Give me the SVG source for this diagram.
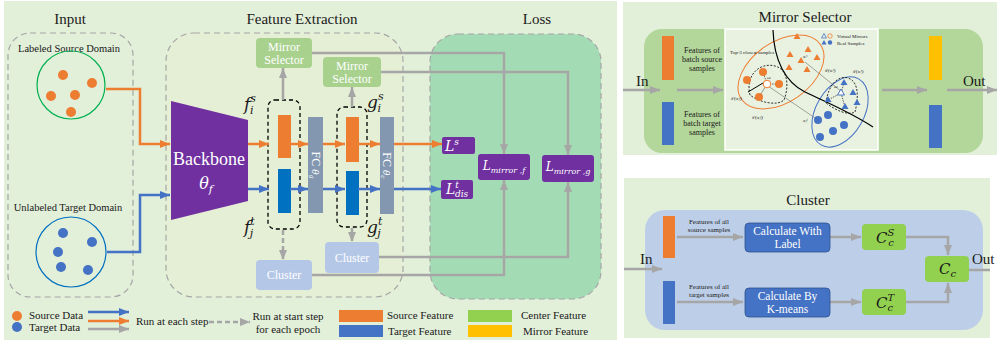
<svg xmlns="http://www.w3.org/2000/svg" width="997" height="346" viewBox="0 0 997 346">
<defs>
<style>
.t{font-family:"Liberation Serif","DejaVu Serif",serif;fill:#1a1a1a}
.w{font-family:"Liberation Serif","DejaVu Serif",serif;fill:#fff}
.m{font-family:"DejaVu Serif","Liberation Serif",serif;font-style:italic}
.dash{fill:none;stroke:#a6a6a6;stroke-width:1.2;stroke-dasharray:6 4}
.ln{fill:none;stroke-width:2.5}
.or{stroke:#ed7d31}
.bl{stroke:#4472c4}
.gr{stroke:#a6a6a6}
.ms{fill:#a9d18e}
.cl{fill:#b4c7e7}
.pu{fill:#7030a0}
.fc{fill:#8497b0}
.bd{fill:none;stroke:#000;stroke-width:1.3;stroke-dasharray:4 3}
</style>
<marker id="ao" viewBox="0 0 10 8" refX="10" refY="4" markerWidth="10" markerHeight="8" markerUnits="userSpaceOnUse" orient="auto"><path d="M0,0L10,4L0,8z" fill="#ed7d31"/></marker>
<marker id="ab" viewBox="0 0 10 8" refX="10" refY="4" markerWidth="10" markerHeight="8" markerUnits="userSpaceOnUse" orient="auto"><path d="M0,0L10,4L0,8z" fill="#4472c4"/></marker>
<marker id="ag" viewBox="0 0 10 8" refX="10" refY="4" markerWidth="10" markerHeight="8" markerUnits="userSpaceOnUse" orient="auto"><path d="M0,0L10,4L0,8z" fill="#a6a6a6"/></marker>
</defs>

<!-- backgrounds -->
<rect x="4" y="1" width="613" height="339" fill="#e2efd9"/>
<rect x="623" y="2" width="374" height="153" fill="#e2efd9"/>
<rect x="624" y="178" width="366" height="160" fill="#e2efd9"/>

<!-- main panel containers -->
<g id="input-box">
<rect x="8" y="33" width="125" height="264" rx="22" fill="#e1edd8" class="dash"/>
<text class="t" x="70" y="24" font-size="15" text-anchor="middle">Input</text>
</g>
<g id="feature-box">
<rect x="166" y="33" width="237" height="264" rx="28" fill="#e5efd5" stroke="#a6a6a6" stroke-width="1.2" stroke-dasharray="6 4"/>
<text class="t" x="302" y="24" font-size="15" text-anchor="middle">Feature Extraction</text>
</g>
<g id="loss-box">
<rect x="430" y="34" width="171" height="265" rx="28" fill="#a3dcb4" stroke="#a6a6a6" stroke-width="1.2" stroke-dasharray="6 4"/>
<text class="t" x="537" y="24" font-size="15" text-anchor="middle">Loss</text>
</g>

<!-- source / target domains -->
<g id="source-domain">
<text class="t" x="69" y="52" font-size="10.5" text-anchor="middle">Labeled  Source Domain</text>
<circle cx="71" cy="85" r="34" fill="none" stroke="#00b050" stroke-width="1.2"/>
<g fill="#ed7d31"><circle cx="63" cy="75" r="5"/><circle cx="92" cy="83" r="5"/><circle cx="51" cy="96" r="5"/><circle cx="75" cy="95" r="5"/><circle cx="71" cy="112" r="5"/></g>
</g>
<g id="target-domain">
<text class="t" x="68" y="211" font-size="10.5" text-anchor="middle">Unlabeled  Target Domain</text>
<circle cx="71" cy="252" r="35" fill="none" stroke="#0070c0" stroke-width="1.2"/>
<g fill="#4472c4"><circle cx="63" cy="233" r="5"/><circle cx="92" cy="242" r="5"/><circle cx="58" cy="252" r="5"/><circle cx="61" cy="267" r="5"/><circle cx="88" cy="270" r="5"/></g>
</g>

<g id="backbone">
<polygon points="171,101 248,120 248,201 171,220" fill="#7030a0"/>
<text class="w" x="209" y="165" font-size="18" text-anchor="middle">Backbone</text>
<text class="w m" x="206" y="189" font-size="16" text-anchor="middle">θ<tspan font-size="11" dy="4">f</tspan></text>
</g>

<g id="feature-f">
<rect x="268" y="100" width="32" height="129" rx="7" class="bd"/>
<rect x="278" y="115" width="13" height="43" fill="#ed7d31"/>
<rect x="278" y="169" width="13" height="44" fill="#0070c0"/>
<text class="t m" x="244" y="110" font-size="17">f<tspan font-size="11" dy="-8">s</tspan><tspan font-size="11" dx="-6" dy="12">i</tspan></text>
<text class="t m" x="244" y="233" font-size="17">f<tspan font-size="11" dy="-8">t</tspan><tspan font-size="11" dx="-5" dy="12">j</tspan></text>
</g>
<g id="fc-g">
<rect x="308" y="117" width="15" height="96" class="fc"/>
<text class="w" transform="translate(315.5,165) rotate(90)" font-size="12" text-anchor="middle" dy="4">FC <tspan class="m" font-size="9">θ</tspan><tspan class="m" font-size="6" dy="2">g</tspan></text>
</g>
<g id="feature-g">
<rect x="337" y="107" width="30" height="120" rx="7" class="bd"/>
<rect x="346" y="117" width="13" height="45" fill="#ed7d31"/>
<rect x="346" y="171" width="13" height="44" fill="#0070c0"/>
<text class="t m" x="367" y="108" font-size="17">g<tspan font-size="11" dy="-8">s</tspan><tspan font-size="11" dx="-6" dy="12">i</tspan></text>
<text class="t m" x="367" y="233" font-size="17">g<tspan font-size="11" dy="-8">t</tspan><tspan font-size="11" dx="-5" dy="12">j</tspan></text>
</g>
<g id="fc-c">
<rect x="380" y="117" width="14" height="97" class="fc"/>
<text class="w" transform="translate(387,165.5) rotate(90)" font-size="12" text-anchor="middle" dy="4">FC <tspan class="m" font-size="9">θ</tspan><tspan class="m" font-size="6" dy="2">c</tspan></text>
</g>

<g id="mirror-selector-1">
<rect x="256" y="38" width="56" height="30" rx="4" class="ms"/>
<text class="w" x="284" y="51" font-size="12" text-anchor="middle">Mirror</text>
<text class="w" x="284" y="64" font-size="12" text-anchor="middle">Selector</text>
</g>
<g id="mirror-selector-2">
<rect x="323" y="57" width="58" height="30" rx="4" class="ms"/>
<text class="w" x="352" y="70" font-size="12" text-anchor="middle">Mirror</text>
<text class="w" x="352" y="83" font-size="12" text-anchor="middle">Selector</text>
</g>
<g id="cluster-1">
<rect x="256" y="260" width="56" height="30" rx="4" class="cl"/>
<text class="w" x="284" y="279" font-size="12" text-anchor="middle">Cluster</text>
</g>
<g id="cluster-2">
<rect x="325" y="242" width="54" height="31" rx="4" class="cl"/>
<text class="w" x="352" y="262" font-size="12" text-anchor="middle">Cluster</text>
</g>

<g id="loss-s">
<rect x="442" y="137" width="33" height="17" rx="2" class="pu"/>
<text class="w m" x="452" y="151" font-size="14" text-anchor="middle">L<tspan font-size="9" dy="-6">s</tspan></text>
</g>
<g id="loss-dis">
<rect x="441" y="180" width="32" height="19" rx="2" class="pu"/>
<text class="w m" x="446" y="194" font-size="14">L<tspan font-size="9" dy="-6">t</tspan><tspan font-size="9" dx="-4" dy="9">dis</tspan></text>
</g>
<g id="loss-mirror-f">
<rect x="478" y="154" width="52" height="26" rx="3" class="pu"/>
<text class="w m" x="504" y="170" font-size="12" text-anchor="middle">L<tspan font-size="8" dy="3">mirror ,f</tspan></text>
</g>
<g id="loss-mirror-g">
<rect x="542" y="155" width="52" height="27" rx="3" class="pu"/>
<text class="w m" x="568" y="171" font-size="12" text-anchor="middle">L<tspan font-size="8" dy="3">mirror ,g</tspan></text>
</g>

<g id="connectors">
<path class="ln or" d="M106,89H140V144H170" marker-end="url(#ao)"/>
<path class="ln bl" d="M107,252H140V195H170" marker-end="url(#ab)"/>
<path class="ln or" d="M248,144H269" marker-end="url(#ao)"/>
<path class="ln or" d="M291,144H308" marker-end="url(#ao)"/>
<path class="ln or" d="M323,144H345" marker-end="url(#ao)"/>
<path class="ln or" d="M359,144H380" marker-end="url(#ao)"/>
<path class="ln or" d="M394,144H442" marker-end="url(#ao)"/>
<path class="ln bl" d="M248,189H269" marker-end="url(#ab)"/>
<path class="ln bl" d="M290,189H308" marker-end="url(#ab)"/>
<path class="ln bl" d="M323,189H345" marker-end="url(#ab)"/>
<path class="ln bl" d="M358,189H380" marker-end="url(#ab)"/>
<path class="ln bl" d="M394,189H441" marker-end="url(#ab)"/>
<path class="ln gr" d="M283,100V68" marker-end="url(#ag)"/>
<path class="ln gr" d="M352,107V87" marker-end="url(#ag)"/>
<path class="ln gr" d="M283,230V260" stroke-dasharray="5 3" marker-end="url(#ag)"/>
<path class="ln gr" d="M352,228V242" stroke-dasharray="5 3" marker-end="url(#ag)"/>
<path class="ln gr" d="M312,53H504V154" marker-end="url(#ag)"/>
<path class="ln gr" d="M381,72H568V155" marker-end="url(#ag)"/>
<path class="ln gr" d="M379,257H568V182" marker-end="url(#ag)"/>
<path class="ln gr" d="M312,275H504V180" marker-end="url(#ag)"/>
</g>

<!-- legend -->
<g id="legend">
<circle cx="17" cy="316" r="5" fill="#ed7d31"/>
<circle cx="17" cy="327" r="5" fill="#4472c4"/>
<text class="t" x="29" y="319" font-size="11">Source Data</text>
<text class="t" x="29" y="331" font-size="11">Target  Data</text>
<path class="ln bl" d="M88,312H129" marker-end="url(#ab)"/>
<path class="ln or" d="M88,321H129" marker-end="url(#ao)"/>
<path class="ln gr" d="M88,329H129" marker-end="url(#ag)"/>
<text class="t" x="136" y="325" font-size="11">Run at each step</text>
<path class="ln gr" d="M209,322H250" stroke-dasharray="5 3" marker-end="url(#ag)"/>
<text class="t" x="288" y="320" font-size="11" text-anchor="middle">Run at start step</text>
<text class="t" x="288" y="333" font-size="11" text-anchor="middle">for each epoch</text>
<rect x="339" y="310" width="44" height="12" fill="#ed7d31"/>
<rect x="339" y="325" width="44" height="12" fill="#4472c4"/>
<text class="t" x="387" y="319" font-size="11">Source Feature</text>
<text class="t" x="388" y="335" font-size="11">Target  Feature</text>
<rect x="468" y="310" width="44" height="12" fill="#92d050"/>
<rect x="468" y="325" width="44" height="12" fill="#ffc000"/>
<text class="t" x="521" y="319" font-size="11">Center Feature</text>
<text class="t" x="523" y="335" font-size="11">Mirror Feature</text>
</g>

<!-- Mirror Selector detail panel -->
<g id="mirror-panel">
<text class="t" x="805" y="22" font-size="15" text-anchor="middle">Mirror Selector</text>
<rect x="644" y="29" width="339" height="124" rx="18" fill="#b3d69b"/>
<rect x="662" y="36" width="12" height="44" fill="#ed7d31"/>
<rect x="662" y="102" width="12" height="43" fill="#4472c4"/>
<text class="t" x="702" y="53" font-size="8" text-anchor="middle">Features of</text>
<text class="t" x="702" y="62" font-size="8" text-anchor="middle">batch source</text>
<text class="t" x="702" y="71" font-size="8" text-anchor="middle">samples</text>
<text class="t" x="702" y="117" font-size="8" text-anchor="middle">Features of</text>
<text class="t" x="702" y="126" font-size="8" text-anchor="middle">batch target</text>
<text class="t" x="702" y="135" font-size="8" text-anchor="middle">samples</text>
<text class="t" x="636" y="86" font-size="15">In</text>
<text class="t" x="963" y="86" font-size="15">Out</text>
<rect x="929" y="36" width="13" height="44" fill="#ffc000"/>
<rect x="929" y="105" width="13" height="43" fill="#4472c4"/>
<path class="ln gr" d="M623,90H660" marker-end="url(#ag)"/>
<path class="ln gr" d="M677,90H723" marker-end="url(#ag)"/>
<path class="ln gr" d="M882,90H927" marker-end="url(#ag)"/>
<path class="ln gr" d="M947,90H997" marker-end="url(#ag)"/>
<!-- scatter illustration -->
<rect x="725" y="29" width="153" height="121" fill="#e9f1e1" stroke="#fff" stroke-width="1.5"/>
<ellipse cx="781" cy="72" rx="48" ry="30" transform="rotate(-35 781 72)" fill="none" stroke="#ed7d31" stroke-width="1"/>
<ellipse cx="840" cy="112" rx="38" ry="24" transform="rotate(-60 840 112)" fill="none" stroke="#4472c4" stroke-width="1"/>
<path d="M773,30C774,60 785,82 805,92C830,104 850,112 873,127" fill="none" stroke="#000" stroke-width="1.2"/>
<path d="M748,92L763,83" stroke="#000" stroke-width="1"/>
<path d="M805,62L842,92M768,86L815,118" stroke="#555" stroke-width="0.5"/>
<path d="M750,95C745,75 760,62 775,66C790,70 788,90 784,100C778,106 760,103 750,95Z" fill="none" stroke="#000" stroke-width="0.8" stroke-dasharray="2 1.5"/>
<path d="M826,103C828,85 838,75 848,78C860,82 858,100 855,112C848,116 835,110 826,103Z" fill="none" stroke="#000" stroke-width="0.8" stroke-dasharray="2 1.5"/>
<path d="M767,84L759,97M767,84L779,84M767,84L763,72M841,93L828,100M841,93L845,107M841,93L844,83" stroke="#000" stroke-width="0.6" stroke-dasharray="1.5 1"/>
<g fill="#ed7d31">
<path d="M797,33l3.5,6h-7z"/><path d="M790,51l3.5,6h-7z"/><path d="M808,46l3.5,6h-7z"/><path d="M801,57l3.5,6h-7z"/><path d="M817,54l3.5,6h-7z"/><path d="M789,64l3.5,6h-7z"/><path d="M807,66l3.5,6h-7z"/>
<circle cx="763" cy="72" r="4"/><circle cx="747" cy="80" r="4"/><circle cx="779" cy="84" r="4"/><circle cx="759" cy="97" r="4"/>
</g>
<circle cx="767" cy="84" r="3.8" fill="#fff" stroke="#ed7d31" stroke-width="1"/>
<g fill="#4472c4">
<path d="M844,79l3.5,6h-7z"/><path d="M853,89l3.5,6h-7z"/><path d="M828,96l3.5,6h-7z"/><path d="M845,103l3.5,6h-7z"/><path d="M857,99l3.5,6h-7z"/>
<circle cx="818" cy="120" r="4"/><circle cx="828" cy="115" r="4"/><circle cx="844" cy="125" r="4"/><circle cx="820" cy="137" r="4"/><circle cx="833" cy="131" r="4"/>
</g>
<path d="M841,89l3.5,6h-7z" fill="#fff" stroke="#4472c4" stroke-width="1"/>
<path d="M824,33.5l2.5,4.5h-5z" fill="none" stroke="#4472c4" stroke-width="0.8"/>
<circle cx="830" cy="36" r="2.2" fill="none" stroke="#ed7d31" stroke-width="0.8"/>
<path d="M824,40l2.5,4.5h-5z" fill="#4472c4"/>
<circle cx="830" cy="42.5" r="2.2" fill="#4472c4"/>
<g class="t" font-size="5">
<text x="837" y="38">Virtual Mirrors</text>
<text x="837" y="44.5">Real Samples</text>
<text x="730" y="54">Top-3 closest samples</text>
<text x="803" y="58" font-style="italic">xᵢˢ</text>
<text x="825" y="72" font-style="italic">x̂ᵗ(xᵢˢ)</text>
<text x="853" y="73" font-style="italic">x̂ᵗ(xᵢˢ)</text>
<text x="731" y="100" font-style="italic">x̂ˢ(xⱼᵗ)</text>
<text x="752" y="119" font-style="italic">x̂ˢ(xⱼᵗ)</text>
<text x="803" y="122" font-style="italic">xⱼᵗ</text>
<text x="767" y="79" font-style="italic">ω</text>
<text x="834" y="88" font-style="italic">ω</text>
</g>
</g>

<!-- Cluster detail panel -->
<g id="cluster-panel">
<text class="t" x="808" y="205" font-size="15" text-anchor="middle">Cluster</text>
<rect x="645" y="210" width="338" height="120" rx="20" fill="#bdcfe8"/>
<rect x="663" y="216" width="12" height="42" fill="#ed7d31"/>
<rect x="663" y="281" width="12" height="43" fill="#4472c4"/>
<text class="t" x="709" y="224" font-size="7" text-anchor="middle">Features of all</text>
<text class="t" x="709" y="232" font-size="7" text-anchor="middle">source samples</text>
<text class="t" x="709" y="289" font-size="7" text-anchor="middle">Features of all</text>
<text class="t" x="709" y="297" font-size="7" text-anchor="middle">target samples</text>
<text class="t" x="640" y="264" font-size="15">In</text>
<text class="t" x="972" y="264" font-size="15">Out</text>
<path class="ln gr" d="M624,269H662" marker-end="url(#ag)"/>
<path class="ln gr" d="M677,237H743" marker-end="url(#ag)"/>
<path class="ln gr" d="M677,302H743" marker-end="url(#ag)"/>
<path class="ln gr" d="M830,237H861" marker-end="url(#ag)"/>
<path class="ln gr" d="M830,302H861" marker-end="url(#ag)"/>
<path class="ln gr" d="M906,237H948V255" marker-end="url(#ag)"/>
<path class="ln gr" d="M906,302H948V283" marker-end="url(#ag)"/>
<path class="ln gr" d="M969,270H990"/>
<rect x="745" y="223" width="85" height="29" rx="4" fill="#4472c4" stroke="#2f528f" stroke-width="0.8"/>
<text class="w" x="787.5" y="235" font-size="11.5" text-anchor="middle">Calculate With</text>
<text class="w" x="787.5" y="248" font-size="11.5" text-anchor="middle">Label</text>
<rect x="745" y="288" width="85" height="29" rx="4" fill="#4472c4" stroke="#2f528f" stroke-width="0.8"/>
<text class="w" x="787.5" y="300" font-size="11.5" text-anchor="middle">Calculate By</text>
<text class="w" x="787.5" y="313" font-size="11.5" text-anchor="middle">K-means</text>
<rect x="862" y="224" width="44" height="26" rx="4" fill="#92d050"/>
<text class="t m" x="876" y="243" font-size="15">C<tspan font-size="10" dy="-7">S</tspan><tspan font-size="10" dx="-6" dy="10">c</tspan></text>
<rect x="862" y="289" width="44" height="26" rx="4" fill="#92d050"/>
<text class="t m" x="876" y="308" font-size="15">C<tspan font-size="10" dy="-7">T</tspan><tspan font-size="10" dx="-6" dy="10">c</tspan></text>
<rect x="925" y="256" width="44" height="26" rx="4" fill="#92d050"/>
<text class="t m" x="939" y="274" font-size="15">C<tspan font-size="10" dy="3">c</tspan></text>
</g>
</svg>
